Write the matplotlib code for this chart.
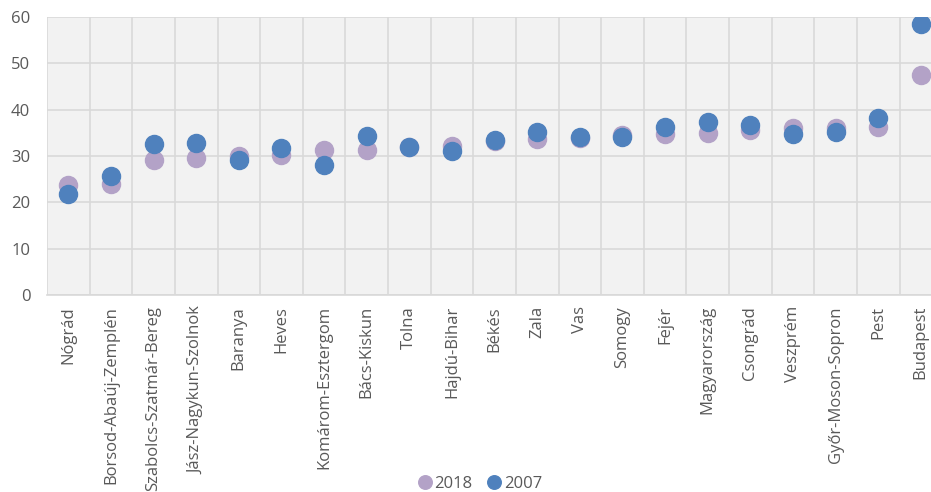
import numpy as np
import matplotlib as mpl
mpl.use('Agg')
import matplotlib.pyplot as plt

plt.rcParams['font.family'] = ['Open Sans', 'DejaVu Sans']

# Megyék (counties), sorted by 2018 value
counties = ['Nógrád', 'Borsod-Abaúj-Zemplén', 'Szabolcs-Szatmár-Bereg',
            'Jász-Nagykun-Szolnok', 'Baranya', 'Heves', 'Komárom-Esztergom',
            'Bács-Kiskun', 'Tolna', 'Hajdú-Bihar', 'Békés', 'Zala', 'Vas',
            'Somogy', 'Fejér', 'Magyarország', 'Csongrád', 'Veszprém',
            'Győr-Moson-Sopron', 'Pest', 'Budapest']
val_2018 = [23.7, 24.0, 29.1, 29.6, 29.9, 30.2, 31.3, 31.4, 32.0, 32.2, 33.3,
            33.7, 33.8, 34.5, 34.8, 35.0, 35.6, 36.1, 36.1, 36.3, 47.5]
val_2007 = [21.9, 25.6, 32.5, 32.8, 29.2, 31.7, 28.1, 34.4, 32.0, 31.1, 33.5,
            35.1, 34.0, 34.0, 36.3, 37.3, 36.6, 34.8, 35.1, 38.3, 58.5]

text_col = '#595959'
grid_col = '#D9D9D9'

fig = plt.figure(figsize=(9.31, 4.92), dpi=100)
ax = fig.add_axes([0.0505, 0.4004, 0.9615, 0.565])
ax.set_facecolor('#F2F2F2')

x = np.arange(len(counties))
ax.plot(x, val_2018, 'o', color='#B3A2C7', markersize=13, label='2018', zorder=3)
ax.plot(x, val_2007, 'o', color='#4F81BD', markersize=13, label='2007', zorder=4)

ax.set_xlim(-0.5, len(counties) - 0.5)
ax.set_ylim(0, 60)
ax.set_yticks(range(0, 61, 10))
ax.set_xticks(x)
ax.set_xticklabels(counties, rotation=90, fontsize=12)
ax.set_xticks(np.arange(-0.5, len(counties), 1), minor=True)

ax.grid(which='minor', axis='x', color=grid_col, linewidth=1.2)
ax.grid(which='major', axis='y', color=grid_col, linewidth=1.2)
ax.set_axisbelow(True)
ax.tick_params(which='both', length=0, colors=text_col, labelsize=12)
ax.tick_params(axis='y', pad=12)
ax.tick_params(axis='x', pad=8)

for side in ['top', 'right', 'left']:
    ax.spines[side].set_visible(False)
ax.spines['bottom'].set_color(grid_col)
ax.spines['bottom'].set_linewidth(1.2)

fig.legend(loc='lower center', bbox_to_anchor=(0.515, -0.03), ncol=2, frameon=False,
           fontsize=12, labelcolor=text_col, handletextpad=0.1, columnspacing=0.8,
           markerscale=0.75, handlelength=1.0)

plt.savefig('out.png', dpi=100)
